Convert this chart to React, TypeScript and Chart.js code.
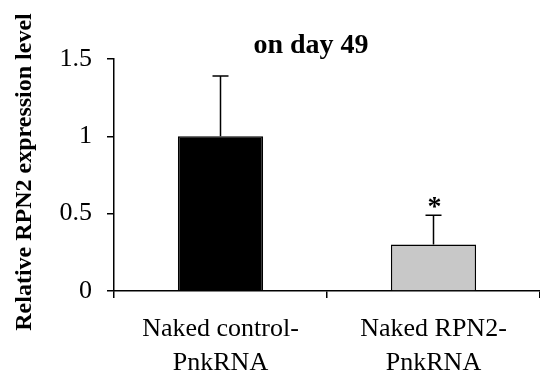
import React, { useEffect, useRef } from "react";
import { Chart, registerables } from "chart.js";

Chart.register(...registerables);

const categories: string[][] = [
  ["Naked control-", "PnkRNA"],
  ["Naked RPN2-", "PnkRNA"],
];
const values: number[] = [1.0, 0.3];
const errors: number[] = [0.39, 0.19];
const significance: string[] = ["", "*"];
const barColors: string[] = ["#000000", "#c8c8c8"];
const yTickValues: number[] = [0, 0.5, 1, 1.5];
const yTickLabels: string[] = ["0", "0.5", "1", "1.5"];
const chartTitle = "on day 49";
const yAxisTitle = "Relative RPN2 expression level";

const FONT = "'Liberation Serif', 'Times New Roman', serif";

const errorBarPlugin = {
  id: "errorBars",
  afterDatasetsDraw(chart: any) {
    const ctx = chart.ctx;
    const meta = chart.getDatasetMeta(0);
    const y = chart.scales.y;
    ctx.save();
    ctx.strokeStyle = "#000";
    ctx.lineWidth = 1.5;
    meta.data.forEach((bar: any, i: number) => {
      const x = bar.x;
      const yBase = y.getPixelForValue(values[i]);
      const yTop = y.getPixelForValue(values[i] + errors[i]);
      ctx.beginPath();
      ctx.moveTo(x, yBase);
      ctx.lineTo(x, yTop);
      ctx.moveTo(x - 8, yTop);
      ctx.lineTo(x + 8, yTop);
      ctx.stroke();
      if (significance[i]) {
        ctx.fillStyle = "#000";
        ctx.font = `bold 28px ${FONT}`;
        ctx.textAlign = "center";
        ctx.textBaseline = "alphabetic";
        ctx.fillText(significance[i], x + 1, yTop);
      }
    });
    ctx.restore();
  },
};

const textPlugin = {
  id: "texts",
  afterDraw(chart: any) {
    const ctx = chart.ctx;
    ctx.save();
    ctx.fillStyle = "#000";
    ctx.font = `bold 28px ${FONT}`;
    ctx.textAlign = "center";
    ctx.textBaseline = "alphabetic";
    ctx.fillText(chartTitle, 311, 53);
    ctx.translate(25, 172);
    ctx.rotate(-Math.PI / 2);
    ctx.font = `bold 24px ${FONT}`;
    ctx.textBaseline = "middle";
    ctx.fillText(yAxisTitle, 0, 0);
    ctx.restore();
  },
};

export default function App() {
  const ref = useRef<HTMLCanvasElement | null>(null);
  useEffect(() => {
    if (!ref.current) return;
    const chart = new Chart(ref.current, {
      type: "bar",
      data: {
        labels: categories,
        datasets: [
          {
            data: values,
            backgroundColor: barColors,
            borderColor: "#000",
            borderWidth: 1.5,
            barPercentage: 0.4,
            categoryPercentage: 1,
          },
        ],
      },
      options: {
        animation: false,
        responsive: false,
        layout: { padding: { top: 59, left: 0, right: 0, bottom: 0 } },
        plugins: {
          legend: { display: false },
          tooltip: { enabled: false },
          title: { display: false },
        },
        scales: {
          x: {
            grid: {
              offset: true,
              drawOnChartArea: false,
              drawTicks: true,
              tickLength: 7,
              color: "#000",
              lineWidth: 1.5,
            },
            border: { color: "#000", width: 1.5 },
            ticks: {
              color: "#000",
              font: { family: FONT, size: 26, lineHeight: 1.3 },
              padding: 14,
              maxRotation: 0,
              autoSkip: false,
            },
            afterFit(scale: any) {
              scale.height = 80;
            },
          },
          y: {
            min: 0,
            max: 1.5,
            afterBuildTicks(scale: any) {
              scale.ticks = yTickValues.map((v) => ({ value: v }));
            },
            grid: {
              drawOnChartArea: false,
              drawTicks: true,
              tickLength: 7,
              color: "#000",
              lineWidth: 1.5,
            },
            border: { color: "#000", width: 1.5 },
            ticks: {
              color: "#000",
              font: { family: FONT, size: 26 },
              padding: 15,
              callback: (_v: any, i: number) => yTickLabels[i],
            },
            afterFit(scale: any) {
              scale.width = 114;
            },
          },
        },
      },
      plugins: [errorBarPlugin, textPlugin],
    });
    return () => chart.destroy();
  }, []);
  return (
    <div style={{ position: "fixed", left: 0, top: 0, width: 540, height: 371 }}>
      <canvas ref={ref} width={540} height={371} style={{ display: "block" }} />
    </div>
  );
}
